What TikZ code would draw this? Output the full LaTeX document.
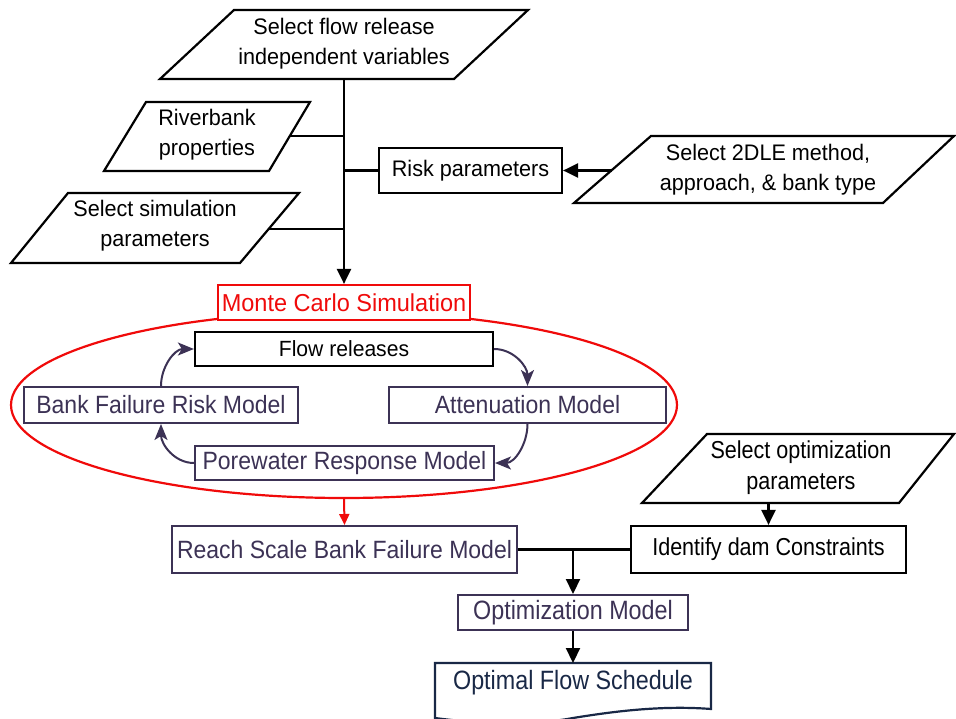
\documentclass[tikz,border=0pt]{standalone}
\usepackage{fontspec}
\setmainfont{Liberation Sans}
\newfontfamily\fa{Liberation Sans}[FakeStretch=0.96]
\newfontfamily\fb{Liberation Sans}[FakeStretch=0.92]
\newfontfamily\fc{Liberation Sans}[FakeStretch=0.88]
\usetikzlibrary{arrows.meta}
\definecolor{pur}{RGB}{60,50,85}
\definecolor{navy}{RGB}{25,40,70}
\definecolor{mcred}{RGB}{240,10,10}
\begin{document}
\begin{tikzpicture}[x=1pt,y=-1pt,
  blk/.style={draw=black,line width=2.2pt,line join=miter},
  txa/.style={font=\fa\fontsize{22.5}{30}\selectfont,align=center,inner sep=0pt},
  txc/.style={font=\fc\fontsize{24.5}{31}\selectfont,align=center,inner sep=0pt},
  boxa/.style={draw=black,line width=2.2pt,fill=white,inner sep=0pt},
  pbox/.style={draw=pur,line width=2pt,fill=white,inner sep=0pt,text=pur,font=\fb\fontsize{25}{30}\selectfont},
  arr/.style={line width=2.2pt,-{Triangle[length=15pt,width=14pt]}},
  lp/.style={draw=pur,line width=2pt,-{Stealth[length=16pt,width=13pt,inset=4pt]}},
  ln/.style={line width=2.2pt}
]
\useasboundingbox (0,0) rectangle (956,719);

% top parallelogram
\draw[blk] (234,10) -- (528,10) -- (454,79) -- (160,79) -- cycle;
\node[txa] (sfr) at (344,43.5) {Select flow release\\independent variables};
\coordinate (sfrb) at (344,79);

% riverbank
\draw[blk] (146,102) -- (310,102) -- (269,171) -- (104,171) -- cycle;
\node[txa] (rb) at (207,135) {Riverbank\\properties};
\coordinate (rbc) at (290,136);
\coordinate (j1) at (344,136);

% simulation parameters
\draw[blk] (68,193) -- (299,193) -- (240,263) -- (11,263) -- cycle;
\node[txa] (sim) at (155,226) {Select simulation\\parameters};
\coordinate (simc) at (269,229);
\coordinate (j3) at (344,229);

% risk parameters
\node[boxa,font=\fa\fontsize{22.5}{30}\selectfont,minimum width=183pt,minimum height=45pt] (risk) at (470.5,170.5) {Risk parameters};
\coordinate (j2) at (344,170.5);

% 2DLE
\draw[blk] (651,136) -- (954,136) -- (883,203) -- (574,203) -- cycle;
\node[txa] (dle) at (768,170) {Select 2DLE method,\\approach, \& bank type};
\coordinate (dlec) at (612,170.5);

\draw[ln] (rbc) -- (j1);
\draw[ln] (simc) -- (j3);
\draw[ln] (j2) -- (risk.west);
\draw[arr] (dlec) -- (risk.east);

% ellipse and Monte Carlo
\draw[mcred,line width=2.2pt] (344,405) ellipse [x radius=333pt,y radius=93pt];
\node[draw=mcred,line width=2.2pt,fill=white,text=mcred,inner sep=0pt,font=\fa\fontsize{24.5}{30}\selectfont,minimum width=252pt,minimum height=35pt] (mc) at (344,302.5) {Monte Carlo Simulation};
\draw[arr] (sfrb) -- (mc.north);

% loop
\node[boxa,font=\fa\fontsize{22}{30}\selectfont,minimum width=298pt,minimum height=34pt] (fr) at (344,349) {Flow releases};
\node[pbox,minimum width=274pt,minimum height=36pt] (bfr) at (161,405) {Bank Failure Risk Model};
\node[pbox,minimum width=277pt,minimum height=36pt] (att) at (527.5,405) {Attenuation Model};
\node[pbox,minimum width=299pt,minimum height=34pt] (pw) at (344.5,463) {Porewater Response Model};
\draw[lp] (fr.east) to[out=0,in=90] (att.north);
\draw[lp] (att.south) to[out=-90,in=0] (pw.east);
\draw[lp] (pw.west) to[out=180,in=-90] (bfr.south);
\draw[lp] (bfr.north) to[out=90,in=180] (fr.west);

% lower part
\node[pbox,minimum width=345pt,minimum height=47pt] (reach) at (344.5,549.5) {Reach Scale Bank Failure Model};
\coordinate (elb) at (344,498);
\draw[mcred,line width=2pt,-{Triangle[length=11pt,width=10pt]}] (elb) -- (reach.north);

\draw[blk] (707,434) -- (954,434) -- (899,503) -- (642,503) -- cycle;
\node[txc] (sop) at (801,468) {Select optimization\\parameters};
\coordinate (sopb) at (768.5,503);

\node[boxa,font=\fc\fontsize{24.5}{30}\selectfont,minimum width=275pt,minimum height=47pt] (idc) at (768.5,549.5) {Identify dam Constraints};
\draw[arr] (sopb) -- (idc.north);

\draw[ln] (reach.east) -- (idc.west);
\coordinate (j4) at (573,549.5);
\node[pbox,font=\fc\fontsize{26.5}{30}\selectfont,minimum width=230pt,minimum height=35pt] (opt) at (573,612.5) {Optimization Model};
\draw[arr] (j4) -- (opt.north);

% optimal flow schedule (document shape)
\draw[draw=navy,line width=2.2pt,fill=white] (435,718) -- (435,663) -- (711,663) -- (711,709)
  .. controls (660,705) and (610,712) .. (573,718)
  .. controls (530,726) and (480,724) .. (435,718) -- cycle;
\node[inner sep=0pt,text=navy,font=\fc\fontsize{26.5}{30}\selectfont] (ofs) at (573,683) {Optimal Flow Schedule};
\coordinate (ofst) at (573,663);
\draw[arr] (opt.south) -- (ofst);
\end{tikzpicture}
\end{document}
